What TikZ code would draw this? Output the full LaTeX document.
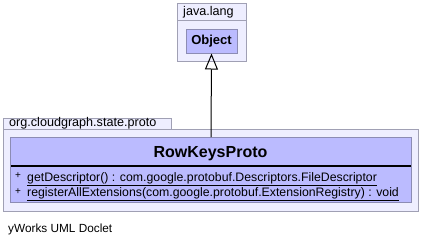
\documentclass[tikz,border=0pt]{standalone}
\usepackage{fontspec}
\setmainfont{Liberation Sans}
\usetikzlibrary{arrows.meta}
\definecolor{pkgfill}{HTML}{EEEEFF}
\definecolor{pkgdraw}{HTML}{A0A0B4}
\definecolor{clsfill}{HTML}{BBBBFF}
\definecolor{clsdraw}{HTML}{8C8CB4}
\tikzset{
  pkgbox/.style={draw=pkgdraw, fill=pkgfill, line width=1pt},
  clsbox/.style={draw=clsdraw, fill=clsfill, line width=1pt},
  pkglabel/.style={font=\fontsize{12.6}{14}\selectfont, anchor=west, inner sep=0pt},
  member/.style={font=\fontsize{12.3}{14}\selectfont, anchor=base west, inner sep=0pt},
  inherit/.style={-{Triangle[open, length=16pt, width=13pt]}, line width=1pt, fill=white}
}
\begin{document}
\begin{tikzpicture}[x=1pt, y=-1pt]
  \useasboundingbox (0,0) rectangle (422,247);
  \fill[white] (0,0) rectangle (422,247);

  % package java.lang
  \draw[pkgbox] (177.5,3.5) rectangle (246.5,61);
  \draw[pkgdraw, line width=1pt] (177.5,20) -- (246.5,20);
  \node[pkglabel] (jl) at (183,12) {java.lang};
  \node[clsbox, minimum width=51pt, minimum height=24pt, inner sep=0pt,
        font=\fontsize{13}{14}\selectfont\bfseries] (obj) at (211.5,41) {Object};

  % package org.cloudgraph.state.proto
  \draw[pkgbox] (3.5,118) rectangle (171.5,129);
  \draw[pkgbox] (3.5,129) rectangle (418,211);
  \node[pkglabel] (pk) at (9,123.5) {org.cloudgraph.state.proto};

  % class RowKeysProto
  \draw[clsbox] (10,137) rectangle (411.5,202);
  \node[font=\fontsize{16}{18}\selectfont\bfseries, inner sep=0pt] (rk) at (210.5,153.5) {RowKeysProto};
  \draw[line width=2pt] (11,166) -- (410.5,166);
  \coordinate (rktop) at (211,137);

  \node[member, font=\fontsize{10}{11}\selectfont] (p1) at (15,178.5) {+};
  \node[member] (m1) at (27,181) {\underline{getDescriptor() : com.google.protobuf.Descriptors.FileDescriptor}};
  \node[member, font=\fontsize{10}{11}\selectfont] (p2) at (15,194) {+};
  \node[member] (m2) at (27,196.5) {\underline{registerAllExtensions(com.google.protobuf.ExtensionRegistry) : void}};

  % generalization
  \draw[inherit] (rktop) -- (obj.south);

  \node[font=\fontsize{11.8}{13}\selectfont, anchor=west, inner sep=0pt] (doc) at (8,229) {yWorks UML Doclet};
\end{tikzpicture}
\end{document}
